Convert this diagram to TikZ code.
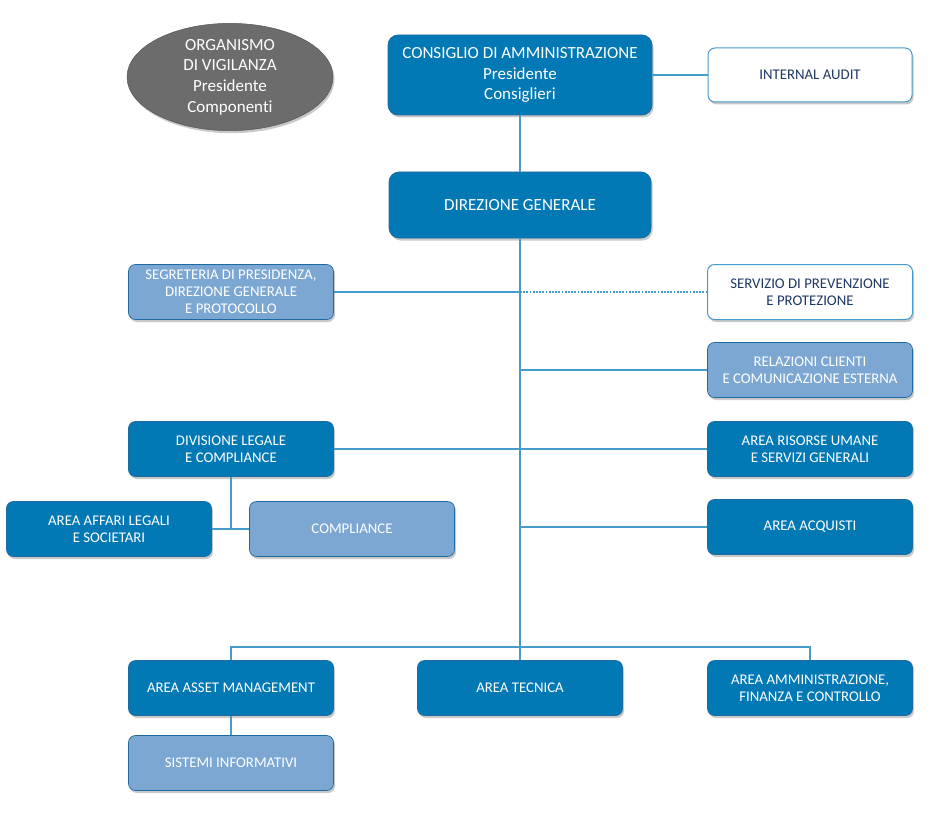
\documentclass[tikz,border=0pt]{standalone}
\usepackage{fontspec}
\setmainfont[Ligatures=NoCommon]{Carlito}
\usetikzlibrary{shadows,shapes.geometric}
\definecolor{dkblue}{RGB}{2,121,181}
\definecolor{ltblue}{RGB}{124,167,210}
\definecolor{edgeblue}{RGB}{30,105,160}
\definecolor{lineblue}{RGB}{70,155,205}
\definecolor{navy}{RGB}{31,56,100}
\definecolor{ovgray}{RGB}{108,108,108}
\tikzset{
  shad/.style={drop shadow={shadow xshift=1.5pt,shadow yshift=-2.5pt,opacity=0.35,fill=black!60}},
  box/.style={rounded corners=7pt, minimum width=205pt, minimum height=55pt, align=center,
    draw=edgeblue, line width=0.7pt, inner sep=2pt, font=\fontsize{14.8}{17}\selectfont, shad},
  dk/.style={box, fill=dkblue, text=white},
  lt/.style={box, fill=ltblue, text=white},
  wh/.style={box, fill=white, text=navy, draw=lineblue, line width=1pt},
  conn/.style={draw=lineblue, line width=1.1pt},
  dotconn/.style={draw=lineblue, line width=1.6pt, dash pattern=on 1.8pt off 1.4pt},
}
\begin{document}
\begin{tikzpicture}[x=1pt,y=-1pt]
\useasboundingbox[fill=white] (0,0) rectangle (934,821);
% top
\node[ellipse, fill=ovgray, draw=ovgray!80!black, line width=0.5pt, minimum width=206pt, minimum height=101pt, text=white, align=center, font=\fontsize{17}{20.7}\selectfont, shad, inner sep=0pt] (ov) at (230,77) {ORGANISMO\\DI VIGILANZA\\Presidente\\Componenti};
\node[dk, minimum width=264pt, minimum height=80pt, rounded corners=10pt, font=\fontsize{17}{20.7}\selectfont] (cda) at (520,75) {CONSIGLIO DI AMMINISTRAZIONE\\Presidente\\Consiglieri};
\node[wh, minimum width=204pt, minimum height=54pt] (ia) at (810,75) {INTERNAL AUDIT};
\node[dk, minimum width=262pt, minimum height=66pt, rounded corners=10pt, font=\fontsize{17}{20}\selectfont] (dg) at (520,205) {DIREZIONE GENERALE};
% left/right level 1
\node[lt] (seg) at (231,292) {SEGRETERIA DI PRESIDENZA,\\DIREZIONE GENERALE\\E PROTOCOLLO};
\node[wh] (spp) at (810,292) {SERVIZIO DI PREVENZIONE\\E PROTEZIONE};
\node[lt] (rel) at (810,370) {RELAZIONI CLIENTI\\E COMUNICAZIONE ESTERNA};
\node[dk] (dl) at (231,449) {DIVISIONE LEGALE\\E COMPLIANCE};
\node[dk] (aru) at (810,449) {AREA RISORSE UMANE\\E SERVIZI GENERALI};
\node[dk] (aal) at (109,529) {AREA AFFARI LEGALI\\E SOCIETARI};
\node[lt] (comp) at (352,529) {COMPLIANCE};
\node[dk] (acq) at (810,527) {AREA ACQUISTI};
% bottom
\node[dk] (aam) at (231,688) {AREA ASSET MANAGEMENT};
\node[dk] (at) at (520,688) {AREA TECNICA};
\node[dk] (aafc) at (810,688) {AREA AMMINISTRAZIONE,\\FINANZA E CONTROLLO};
\node[lt] (si) at (231,763) {SISTEMI INFORMATIVI};
% coordinates on trunk
\coordinate (t1) at (520,292);
\coordinate (t2) at (520,370);
\coordinate (t3) at (520,449);
\coordinate (t4) at (520,527);
\coordinate (t5) at (520,647);
\coordinate (j1) at (231,529);
% connectors
\draw[conn] (cda.east) -- (ia.west);
\draw[conn] (cda.south) -- (dg.north);
\draw[conn] (dg.south) -- (at.north);
\draw[conn] (seg.east) -- (t1);
\draw[dotconn] (t1) -- (spp.west);
\draw[conn] (t2) -- (rel.west);
\draw[conn] (dl.east) -- (aru.west);
\draw[conn] (t4) -- (acq.west);
\draw[conn] (dl.south) -- (j1);
\draw[conn] (aal.east) -- (comp.west);
\draw[conn] (aam.north) |- (t5) -| (aafc.north);
\draw[conn] (aam.south) -- (si.north);
\end{tikzpicture}
\end{document}
